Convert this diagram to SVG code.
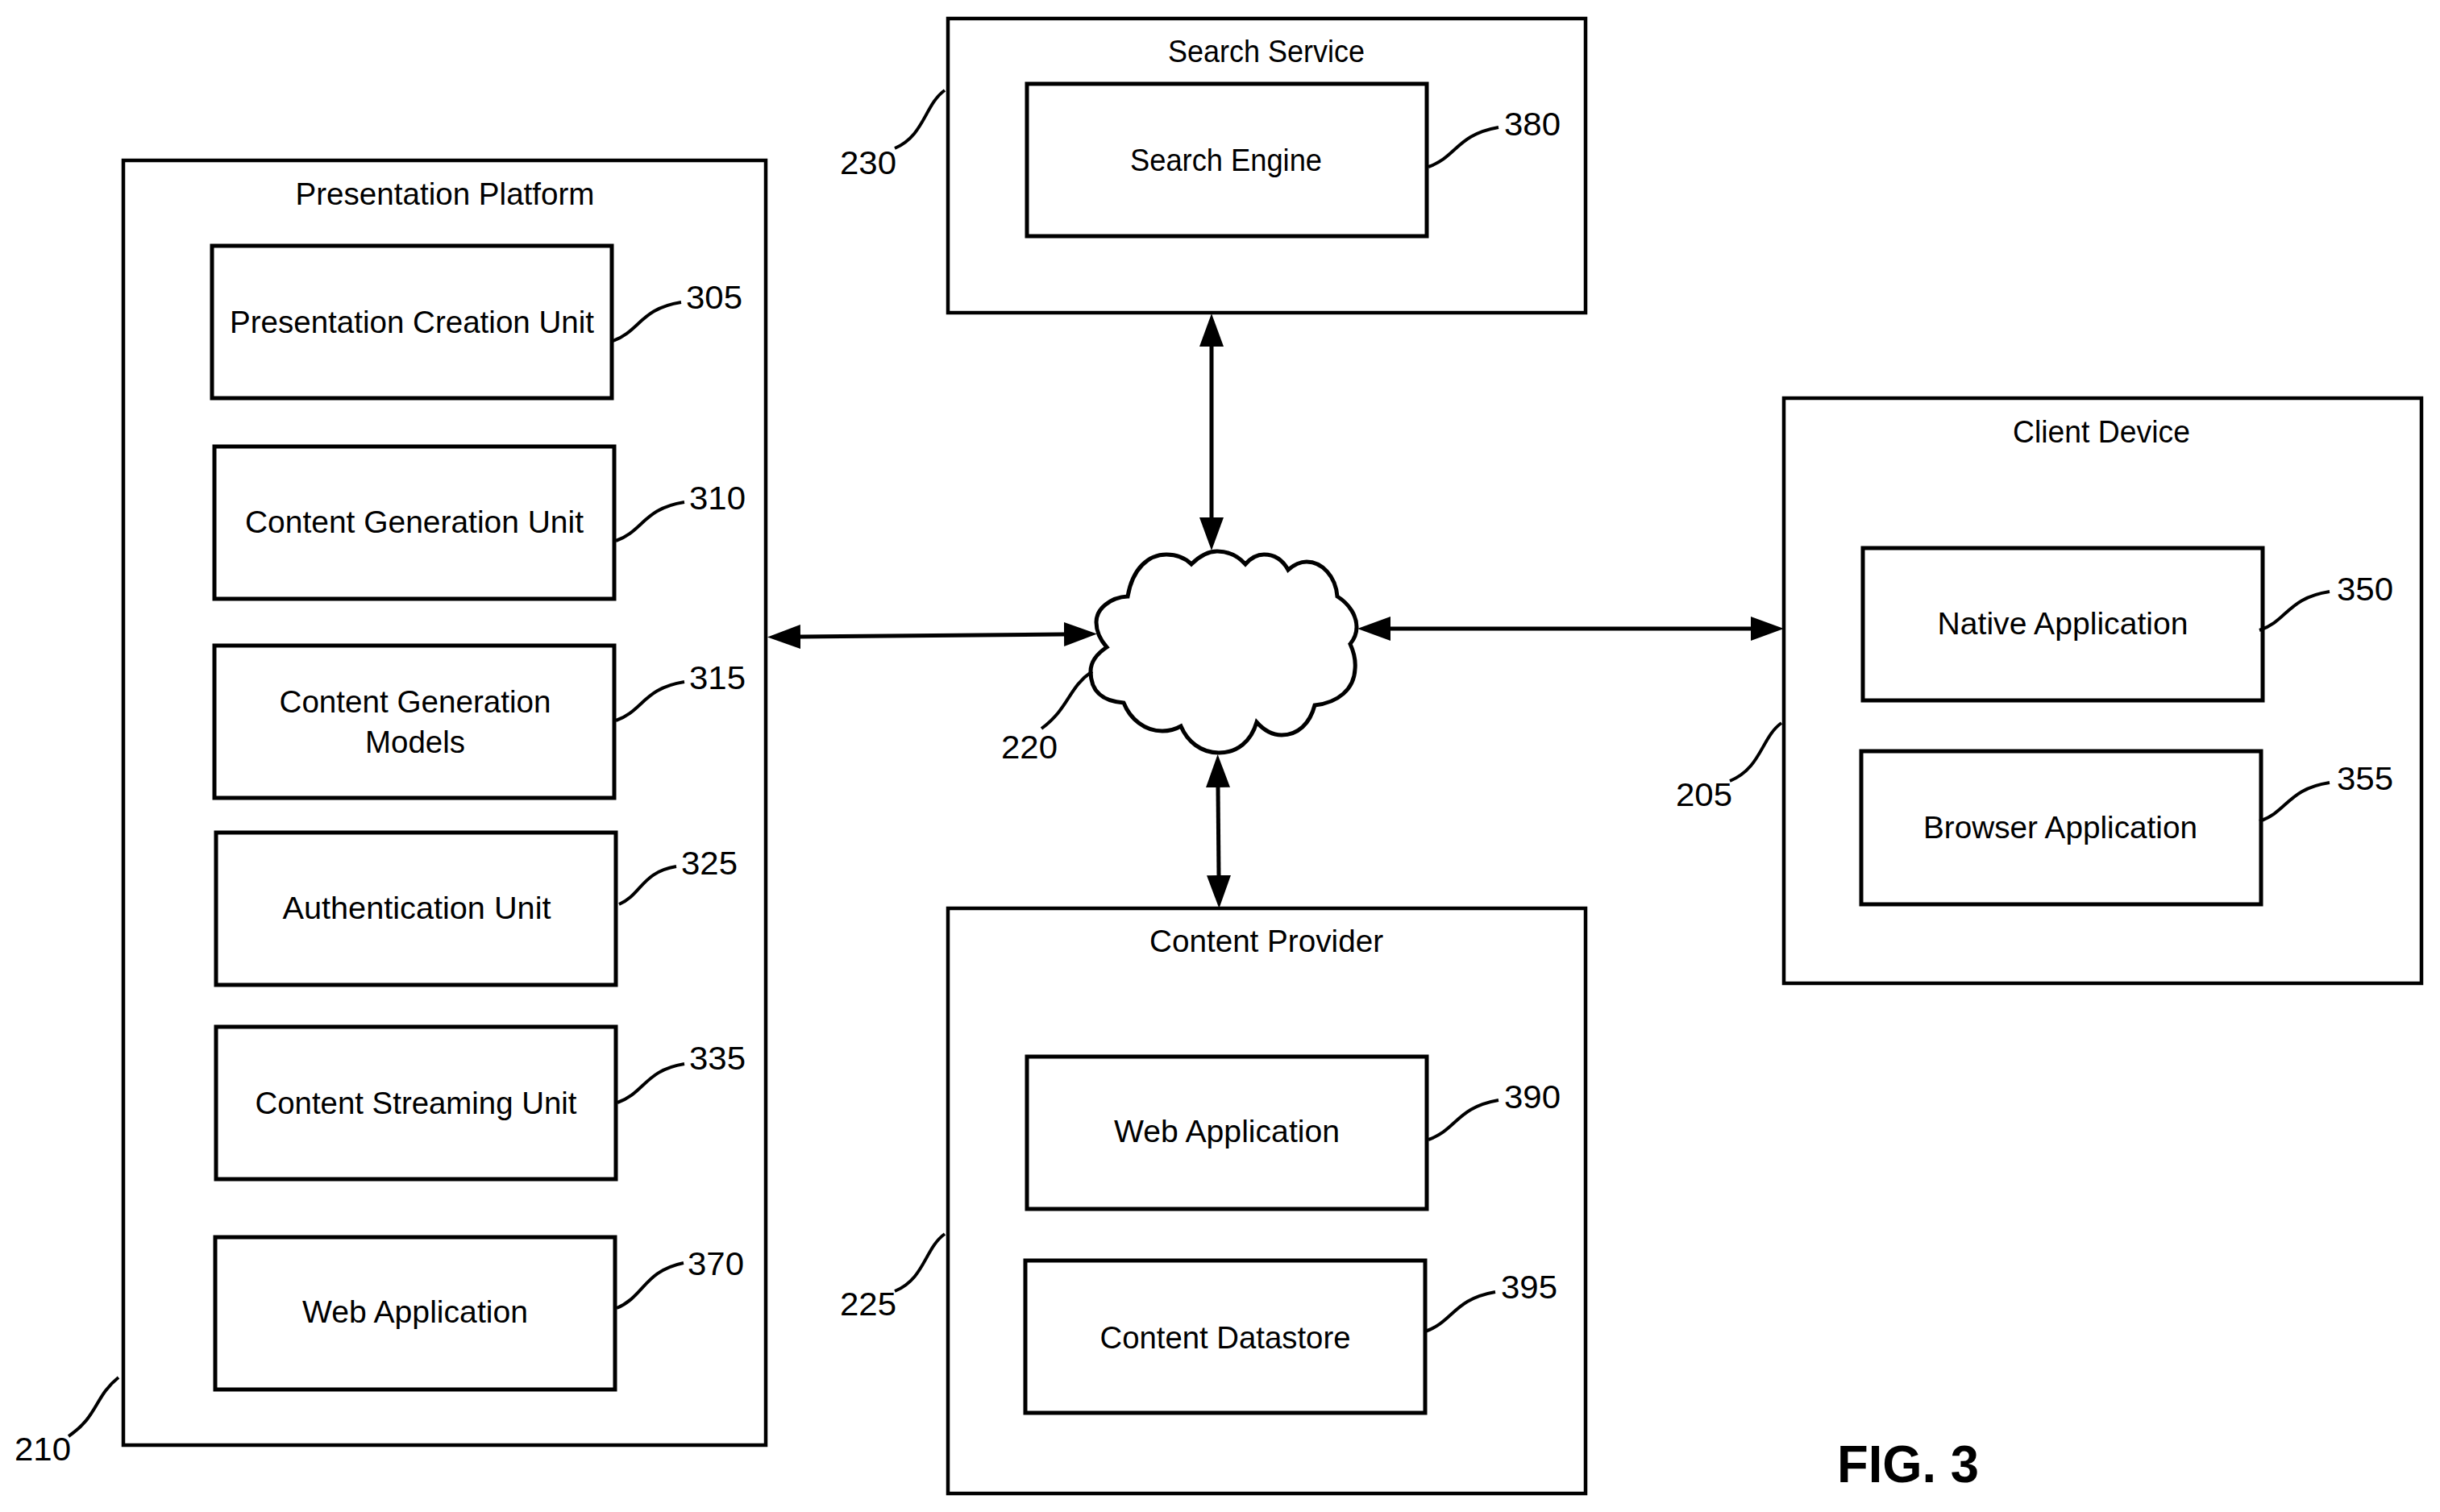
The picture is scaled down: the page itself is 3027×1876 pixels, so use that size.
<svg xmlns="http://www.w3.org/2000/svg" width="3027" height="1876" viewBox="0 0 3027 1876">
<style>
text{font-family:"Liberation Sans",Arial,sans-serif;font-size:39px;fill:#000}
.l{text-anchor:middle}
.n{font-size:41px}
.box{fill:#fff;stroke:#000;stroke-width:4.5}
.in{fill:#fff;stroke:#000;stroke-width:5}
.a{fill:none;stroke:#000;stroke-width:5}
.lead{fill:none;stroke:#000;stroke-width:4}
</style>
<defs>
<marker id="h" markerUnits="userSpaceOnUse" markerWidth="42" markerHeight="32" refX="0" refY="16" orient="auto-start-reverse"><path d="M0 1L41 16L0 31Z" fill="#000"/></marker>
</defs>
<rect width="3027" height="1876" fill="#fff"/>
<g id="n210"><rect class="box" x="153" y="199" width="797" height="1594"/><text class="l" x="552" y="254" textLength="371" lengthAdjust="spacingAndGlyphs">Presentation Platform</text></g>
<g id="n230"><rect class="box" x="1176" y="23" width="791" height="365"/><text class="l" x="1571" y="77" textLength="244" lengthAdjust="spacingAndGlyphs">Search Service</text></g>
<g id="n205"><rect class="box" x="2213" y="494" width="791" height="726"/><text class="l" x="2607" y="549" textLength="220" lengthAdjust="spacingAndGlyphs">Client Device</text></g>
<g id="n225"><rect class="box" x="1176" y="1127" width="791" height="726"/><text class="l" x="1571" y="1181" textLength="290" lengthAdjust="spacingAndGlyphs">Content Provider</text></g>
<g id="n305"><rect class="in" x="263" y="305" width="496" height="189"/><text class="l" x="511" y="413" textLength="452" lengthAdjust="spacingAndGlyphs">Presentation Creation Unit</text></g>
<g id="n310"><rect class="in" x="266" y="554" width="496" height="189"/><text class="l" x="514" y="661" textLength="420" lengthAdjust="spacingAndGlyphs">Content Generation Unit</text></g>
<g id="n315"><rect class="in" x="266" y="801" width="496" height="189"/><text class="l" x="515" y="884" textLength="337" lengthAdjust="spacingAndGlyphs">Content Generation</text><text class="l" x="515" y="934" textLength="124" lengthAdjust="spacingAndGlyphs">Models</text></g>
<g id="n325"><rect class="in" x="268" y="1033" width="496" height="189"/><text class="l" x="517" y="1140" textLength="333" lengthAdjust="spacingAndGlyphs">Authentication Unit</text></g>
<g id="n335"><rect class="in" x="268" y="1274" width="496" height="189"/><text class="l" x="516" y="1382" textLength="399" lengthAdjust="spacingAndGlyphs">Content Streaming Unit</text></g>
<g id="n370"><rect class="in" x="267" y="1535" width="496" height="189"/><text class="l" x="515" y="1641" textLength="280" lengthAdjust="spacingAndGlyphs">Web Application</text></g>
<g id="n380"><rect class="in" x="1274" y="104" width="496" height="189"/><text class="l" x="1521" y="212" textLength="238" lengthAdjust="spacingAndGlyphs">Search Engine</text></g>
<g id="n350"><rect class="in" x="2311" y="680" width="496" height="189"/><text class="l" x="2559" y="787" textLength="311" lengthAdjust="spacingAndGlyphs">Native Application</text></g>
<g id="n355"><rect class="in" x="2309" y="932" width="496" height="190"/><text class="l" x="2556" y="1040" textLength="340" lengthAdjust="spacingAndGlyphs">Browser Application</text></g>
<g id="n390"><rect class="in" x="1274" y="1311" width="496" height="189"/><text class="l" x="1522" y="1417" textLength="280" lengthAdjust="spacingAndGlyphs">Web Application</text></g>
<g id="n395"><rect class="in" x="1272" y="1564" width="496" height="189"/><text class="l" x="1520" y="1673" textLength="311" lengthAdjust="spacingAndGlyphs">Content Datastore</text></g>
<g id="n220"><path d="M1399 740C1405 705 1425 688 1447 688C1460 688 1470 692 1478 700C1488 690 1498 684 1510 684C1525 684 1537 691 1545 700C1552 692 1560 688 1568 688C1582 688 1592 696 1598 707C1606 700 1613 697 1621 697C1640 697 1657 715 1659 740C1675 750 1683 765 1683 778C1683 786 1680 793 1675 799C1680 810 1682 820 1681 830C1680 855 1660 872 1631 875C1625 898 1610 912 1590 912C1578 912 1567 905 1559 896C1552 920 1535 934 1512 934C1490 934 1473 920 1465 901C1458 905 1450 907 1442 907C1420 907 1402 892 1394 872C1370 870 1353 860 1353 833C1353 820 1361 811 1373 803C1366 795 1360 785 1360 772C1360 755 1378 741 1399 740Z" fill="#fff" stroke="#000" stroke-width="5"/></g>
<g id="connectors">
<path class="a" d="M1503 430L1503 642" marker-start="url(#h)" marker-end="url(#h)"/>
<path class="a" d="M993 790L1320 787" marker-start="url(#h)" marker-end="url(#h)"/>
<path class="a" d="M1725 780L2172 780" marker-start="url(#h)" marker-end="url(#h)"/>
<path class="a" d="M1511 977L1512 1086" marker-start="url(#h)" marker-end="url(#h)"/>
<path class="lead" d="M760 423c34 -12 34 -40 85 -48"/>
<path class="lead" d="M764 671c34 -12 34 -40 85 -48"/>
<path class="lead" d="M764 894c34 -12 34 -40 85 -48"/>
<path class="lead" d="M768 1122c28 -12 28 -40 71 -47"/>
<path class="lead" d="M766 1368c34 -12 34 -40 83 -48"/>
<path class="lead" d="M765 1623c34 -14 34 -46 83 -56"/>
<path class="lead" d="M1772 207c35 -12 35 -40 87 -49"/>
<path class="lead" d="M2803 782c35 -12 35 -40 87 -48"/>
<path class="lead" d="M2803 1019c35 -12 35 -40 87 -48"/>
<path class="lead" d="M1772 1414c35 -12 35 -40 87 -49"/>
<path class="lead" d="M1768 1652c35 -12 35 -40 87 -49"/>
<path class="lead" d="M1172 112c-25 18 -25 56 -62 72"/>
<path class="lead" d="M1355 833c-30 20 -28 45 -63 71"/>
<path class="lead" d="M2210 897c-25 18 -25 56 -64 72"/>
<path class="lead" d="M1172 1531c-25 18 -25 56 -62 71"/>
<path class="lead" d="M147 1709c-30 24 -25 48 -62 73"/>
</g>
<g id="refs">
<text class="n" x="851" y="383" textLength="70" lengthAdjust="spacingAndGlyphs">305</text>
<text class="n" x="855" y="632" textLength="70" lengthAdjust="spacingAndGlyphs">310</text>
<text class="n" x="855" y="855" textLength="70" lengthAdjust="spacingAndGlyphs">315</text>
<text class="n" x="845" y="1085" textLength="70" lengthAdjust="spacingAndGlyphs">325</text>
<text class="n" x="855" y="1327" textLength="70" lengthAdjust="spacingAndGlyphs">335</text>
<text class="n" x="853" y="1582" textLength="70" lengthAdjust="spacingAndGlyphs">370</text>
<text class="n" x="1866" y="168" textLength="70" lengthAdjust="spacingAndGlyphs">380</text>
<text class="n" x="2899" y="745" textLength="70" lengthAdjust="spacingAndGlyphs">350</text>
<text class="n" x="2899" y="980" textLength="70" lengthAdjust="spacingAndGlyphs">355</text>
<text class="n" x="1866" y="1375" textLength="70" lengthAdjust="spacingAndGlyphs">390</text>
<text class="n" x="1862" y="1611" textLength="70" lengthAdjust="spacingAndGlyphs">395</text>
<text class="n" x="1042" y="216" textLength="70" lengthAdjust="spacingAndGlyphs">230</text>
<text class="n" x="1242" y="941" textLength="70" lengthAdjust="spacingAndGlyphs">220</text>
<text class="n" x="2079" y="1000" textLength="70" lengthAdjust="spacingAndGlyphs">205</text>
<text class="n" x="1042" y="1632" textLength="70" lengthAdjust="spacingAndGlyphs">225</text>
<text class="n" x="18" y="1812" textLength="70" lengthAdjust="spacingAndGlyphs">210</text>
</g>
<text id="fig" x="2279" y="1839" style="font-size:65px;font-weight:700" textLength="176" lengthAdjust="spacingAndGlyphs">FIG. 3</text>
</svg>
